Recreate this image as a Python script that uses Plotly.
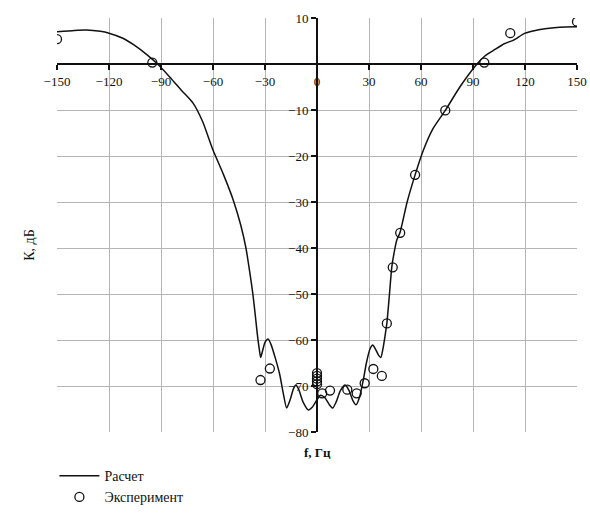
import plotly.graph_objects as go

# Calculated curve (Расчет)
calc_f = [-150, -140, -133, -125, -120, -112, -105, -98, -92, -85, -78, -71.5, -66, -60, -54,
          -48.3, -44, -41, -38.5, -37, -35.5, -34.5, -33.3, -32.5, -31.5, -30, -28.2, -26.5,
          -24, -21.5, -19.5, -17.5, -15.5, -13.5, -12.2, -10.5, -8, -5, -2.5, 0, 2, 4.5, 7, 9,
          11, 13.5, 16.2, 18.5, 20.5, 22.5, 24.5, 26.7, 28.5, 30.5, 32.2, 33.5, 35.5, 36.8, 38,
          39.3, 40.3, 41.7, 43.2, 44.8, 46, 48, 52, 56.6, 61.4, 67, 74, 82.6, 92.3, 97, 102,
          108, 113.4, 120, 126, 132.7, 140, 150]
calc_k = [7.0, 7.3, 7.4, 7.1, 6.7, 5.6, 4.0, 2.0, 0.0, -2.8, -5.8, -8.5, -12.5, -18.7, -24,
          -29.6, -35, -40, -46, -50, -55, -58.5, -62, -63.8, -62.5, -60.5, -59.8, -61,
          -64, -67.5, -71.5, -74.8, -73, -70.5, -69.8, -70.8, -73.5, -75.2, -74.5, -73, -72, -72.5, -74, -74.8,
          -73.5, -71, -69.8, -71, -73, -74.1, -72.5, -68.7, -65, -62, -61.1, -61.8, -63.3, -63.8, -62,
          -59, -56.4, -50.5, -44, -40.4, -38.3, -36.5, -30, -24.1, -18.7, -14, -10.1, -4.9, 0.0, 1.8, 3.0,
          4.4, 5.2, 6.7, 7.3, 7.7, 8.0, 8.1]

# Experimental points (Эксперимент)
exp_f = [-150, -95, -32.6, -27.2, 0, 0, 0, 0, 0, 3, 7.5, 17.5, 22.9, 27.5, 32.5, 37.4,
         40.3, 43.7, 48, 56.6, 74, 96.5, 111.5, 150]
exp_k = [5.4, 0.3, -68.7, -66.2, -67.2, -67.8, -68.4, -69.0, -69.6, -71.6, -71.0, -70.8, -71.6,
         -69.4, -66.3, -67.8, -56.4, -44.2, -36.7, -24.1, -10.1, 0.3, 6.7, 9.2]

x_ticks = [-150, -120, -90, -60, -30, 0, 30, 60, 90, 120, 150]
x_labels = ["\u2212150", "\u2212120", "\u221290", "\u221260", "\u221230", "0", "30", "60", "90", "120", "150"]
x_grid = [-120, -90, -60, -30, 0, 30, 60, 90, 120]
y_ticks = [10, -10, -20, -30, -40, -50, -60, -70, -80]
y_labels = ["10", "\u221210", "\u221220", "\u221230", "\u221240", "\u221250", "\u221260", "\u221270", "\u221280"]
y_grid = [10, 0, -10, -20, -30, -40, -50, -60, -70, -80]

FONT = "Liberation Serif"

fig = go.Figure()
fig.add_trace(go.Scatter(x=calc_f, y=calc_k, mode="lines", name="Расчет",
                         line=dict(color="#111111", width=1.5, shape="spline", smoothing=0.6)))
fig.add_trace(go.Scatter(x=exp_f, y=exp_k, mode="markers", name="Эксперимент",
                         marker=dict(symbol="circle-open", size=9, color="#111111",
                                     line=dict(width=1.3, color="#111111"))))

fig.update_layout(
    width=590, height=513,
    margin=dict(l=57, r=13, t=18, b=81, autoexpand=False),
    paper_bgcolor="white", plot_bgcolor="white",
    font=dict(family=FONT, size=13, color="#111111"),
    showlegend=True,
    legend=dict(x=-0.005, y=-0.068, xanchor="left", yanchor="top",
                bgcolor="rgba(0,0,0,0)", font=dict(family=FONT, size=14),
                tracegroupgap=0, itemwidth=40),
    xaxis=dict(range=[-150, 150], tickmode="array", tickvals=x_ticks, ticktext=x_labels,
               showgrid=False, zeroline=False, showline=True, linecolor="#111111", linewidth=2,
               ticks="outside", ticklen=5, tickwidth=1.5, tickcolor="#111111",
               anchor="free", position=80 / 90, automargin=False,
               minor=dict(tickmode="array", tickvals=x_grid, showgrid=True,
                          gridcolor="#b5b5b5", gridwidth=1, ticks=""),
               tickfont=dict(family=FONT, size=13)),
    yaxis=dict(range=[-80, 10], tickmode="array", tickvals=y_ticks, ticktext=y_labels,
               showgrid=False, zeroline=False, showline=True, linecolor="#111111", linewidth=2,
               ticks="outside", ticklen=5, tickwidth=1.5, tickcolor="#111111",
               anchor="free", position=0.5, automargin=False,
               minor=dict(tickmode="array", tickvals=y_grid, showgrid=True,
                          gridcolor="#b5b5b5", gridwidth=1, ticks=""),
               tickfont=dict(family=FONT, size=13)),
    annotations=[
        dict(text="К, дБ", xref="paper", yref="paper", x=-0.052, y=0.452,
             xanchor="center", yanchor="middle",
             textangle=-90, showarrow=False, font=dict(family=FONT, size=14)),
        dict(text="<b>f, Гц</b>", xref="paper", yref="paper", x=0.5, y=-0.05,
             xanchor="center", yanchor="middle",
             showarrow=False, font=dict(family=FONT, size=13)),
    ],
)

fig.write_html("out.html")
